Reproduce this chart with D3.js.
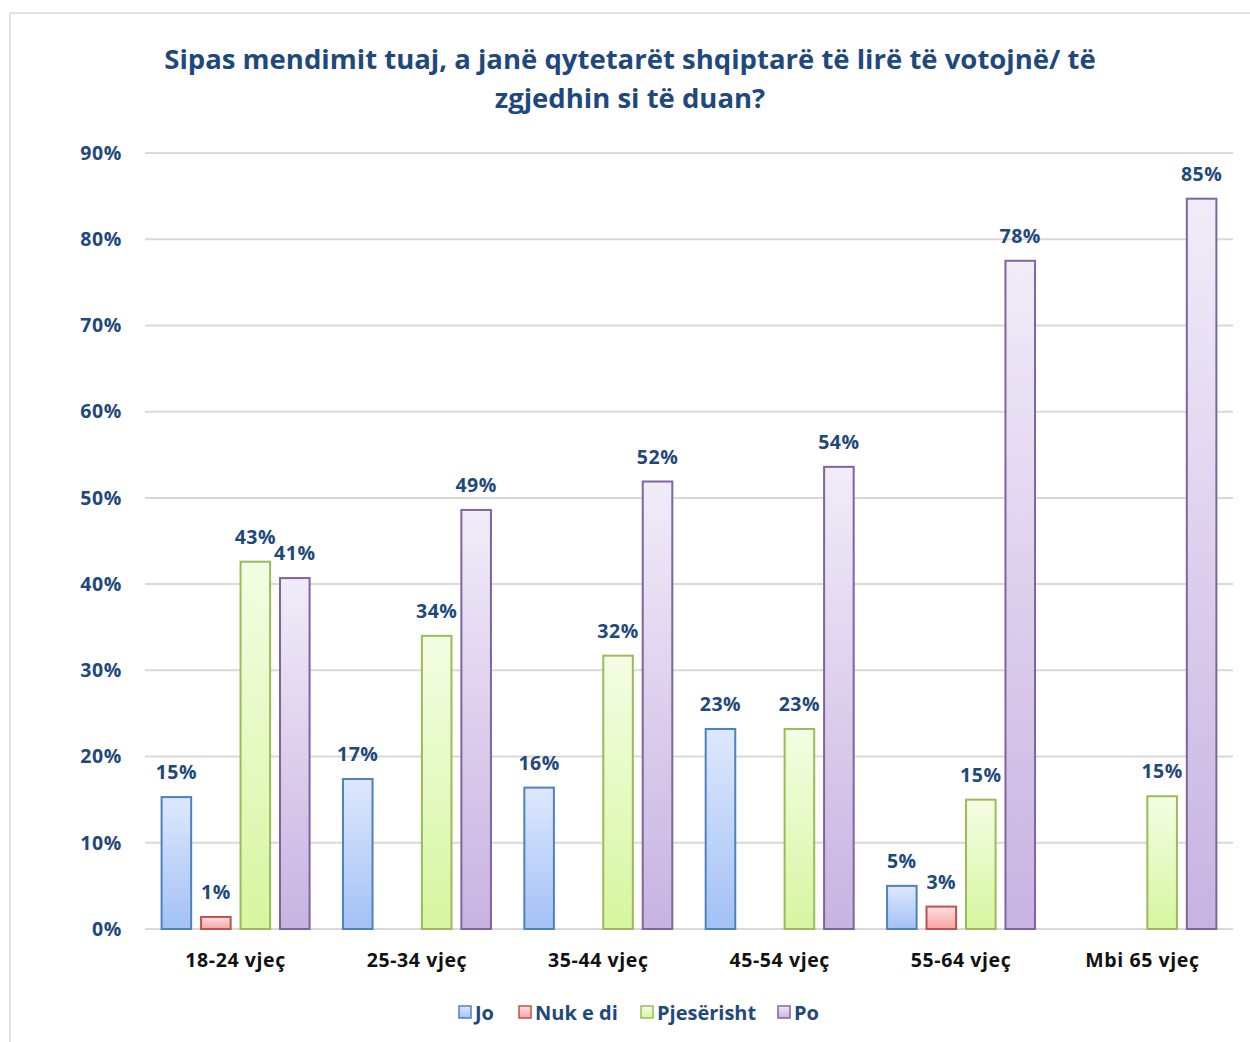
<!DOCTYPE html>
<html><head><meta charset="utf-8">
<script src="https://cdn.jsdelivr.net/npm/d3@7"></script>
<style>body{margin:0;background:#fff}svg{display:block}</style>
</head><body>
<svg id="c" width="1250" height="1042"></svg>
<script>
const categories = ["18-24 vjeç","25-34 vjeç","35-44 vjeç","45-54 vjeç","55-64 vjeç","Mbi 65 vjeç"];
const seriesNames = ["Jo","Nuk e di","Pjesërisht","Po"];
const jo = [15.3, 17.4, 16.4, 23.2, 5.0, null];
const nukEDi = [1.4, null, null, null, 2.6, null];
const pjeserisht = [42.6, 34.0, 31.7, 23.2, 15.0, 15.4];
const po = [40.7, 48.6, 51.9, 53.6, 77.5, 84.7];
const yTicks = [0,10,20,30,40,50,60,70,80,90];
const titleLines = ["Sipas mendimit tuaj, a janë qytetarët shqiptarë të lirë të votojnë/ të","zgjedhin si të duan?"];

(function(){
const seriesValues = [jo, nukEDi, pjeserisht, po];
const colors = [
  {top:"#dde8fd", bot:"#a3c1f5", stroke:"#4f81bd"},
  {top:"#ffe0e0", bot:"#f5a3a3", stroke:"#c0504d"},
  {top:"#f4fde4", bot:"#d6f6a0", stroke:"#9bbb59"},
  {top:"#f1ecf8", bot:"#c7b3e1", stroke:"#8064a2"}
];
const textColor = "#1f497d";
const font = "'Open Sans', Lato, sans-serif";

const svg = d3.select("#c");
svg.append("rect").attr("x",10).attr("y",13).attr("width",1260).attr("height",1060)
  .attr("fill","none").attr("stroke","#d9d9d9").attr("stroke-width",1.5);

const defs = svg.append("defs");
colors.forEach((c,i)=>{
  const g = defs.append("linearGradient").attr("id","g"+i).attr("x1",0).attr("y1",0).attr("x2",0).attr("y2",1);
  g.append("stop").attr("offset","0%").attr("stop-color",c.top);
  g.append("stop").attr("offset","100%").attr("stop-color",c.bot);
});

const pl=145, pr=1233, pt=153, pb=929;
const y = d3.scaleLinear().domain([0,90]).range([pb,pt]);
const x0 = d3.scaleBand().domain(categories).range([pl,pr]).paddingInner(0.173).paddingOuter(0.086);
const x1 = d3.scaleBand().domain(seriesNames).range([0,x0.bandwidth()]).paddingInner(0.2);

svg.append("g").selectAll("text").data(titleLines).join("text")
  .attr("x",630).attr("y",(d,i)=>69+i*39).attr("text-anchor","middle")
  .attr("font-family",font).attr("font-weight","bold").attr("font-size",27.5)
  .attr("fill",textColor).text(d=>d);

svg.append("g").selectAll("line").data(yTicks).join("line")
  .attr("x1",pl).attr("x2",pr).attr("y1",d=>y(d)).attr("y2",d=>y(d))
  .attr("stroke","#d9d9d9").attr("stroke-width",2);

const yAxis = d3.axisLeft(y).tickValues(yTicks).tickFormat(d=>d+"%").tickSize(0).tickPadding(23);
const ya = svg.append("g").attr("transform",`translate(${pl},0)`).call(yAxis);
ya.select(".domain").remove();
ya.selectAll("text").attr("font-family",font).attr("font-weight","bold").attr("font-size",19.5)
  .attr("letter-spacing",0.6).attr("fill",textColor);

const xAxis = d3.axisBottom(x0).tickSize(0).tickPadding(24);
const xa = svg.append("g").attr("transform",`translate(0,${pb})`).call(xAxis);
xa.select(".domain").remove();
xa.selectAll("text").attr("font-family",font).attr("font-weight","bold").attr("font-size",19.5)
  .attr("letter-spacing",0.6).attr("fill","#111");

const data = [];
categories.forEach((cat,ci)=>{
  seriesNames.forEach((s,si)=>{
    const v = seriesValues[si][ci];
    if (v!=null) data.push({cat, s, si, v});
  });
});
const bars = svg.append("g");
bars.selectAll("rect").data(data).join("rect")
  .attr("x",d=>x0(d.cat)+x1(d.s)+1)
  .attr("y",d=>y(d.v))
  .attr("width",x1.bandwidth()-2)
  .attr("height",d=>pb-y(d.v))
  .attr("fill",d=>`url(#g${d.si})`)
  .attr("stroke",d=>colors[d.si].stroke).attr("stroke-width",2);

bars.selectAll("text").data(data).join("text")
  .attr("x",d=>x0(d.cat)+x1(d.s)+x1.bandwidth()/2)
  .attr("y",d=>y(d.v)-18)
  .attr("text-anchor","middle")
  .attr("font-family",font).attr("font-weight","bold").attr("font-size",19.5)
  .attr("letter-spacing",0.5)
  .attr("fill",textColor).text(d=>Math.round(d.v)+"%");

const legendX = [459, 519, 641, 778];
const lg = svg.append("g");
seriesNames.forEach((s,i)=>{
  const g = lg.append("g").attr("transform",`translate(${legendX[i]},1006)`);
  g.append("rect").attr("x",0).attr("y",0).attr("width",12).attr("height",12)
    .attr("fill",`url(#g${i})`).attr("stroke",colors[i].stroke).attr("stroke-width",1.5);
  g.append("text").attr("x",16).attr("y",13.5).attr("font-family",font).attr("font-weight","bold")
    .attr("font-size",20).attr("fill",textColor).text(s);
});
})();
</script>
</body></html>
